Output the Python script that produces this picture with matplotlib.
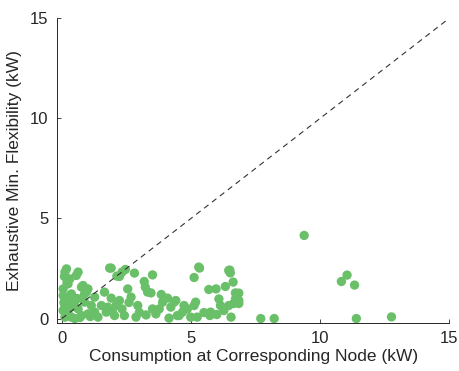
import matplotlib
matplotlib.use("Agg")
import matplotlib.pyplot as plt

# node consumption (kW) vs exhaustive min. flexibility (kW)
consumption = [
    # cluster near x = 0..2
    0.18, 0.12, 0.63, 0.56, 0.31, 0.24, 0.05, 0.76, 1.01, 0.95,
    1.85, 1.65, 1.27, 1.53, 1.78, 1.72, 0.18, 0.12, 0.24, 0.50,
    0.63, 0.76, 1.01, 1.27, 1.40, 0.37, 0.12, 0.05, 0.88, 1.14,
    0.37, 0.82, 0.88, 0.50, 0.05, 0.30, 0.10, 0.45, 0.70, 1.10,
    0.20, 0.08, 0.35, 0.15, 0.60,
    # x = 2..4.5
    1.91, 2.13, 2.46, 2.33, 3.51, 3.19, 3.23, 3.45, 2.55, 2.68,
    1.91, 2.23, 2.10, 2.33, 2.04, 2.42, 2.87, 3.26, 3.64, 3.77,
    3.90, 4.09, 4.22, 4.15, 4.47, 4.35, 2.94, 3.51, 2.81, 2.23,
    3.32, 3.00, 2.60, 3.85, 1.95,
    # x = 4.4..6.9
    5.33, 5.12, 6.50, 6.52, 6.63, 6.33, 5.69, 5.97, 6.72, 6.08,
    6.72, 6.65, 6.14, 6.46, 6.27, 5.76, 5.73, 6.55, 4.41, 4.73,
    4.86, 5.12, 5.18, 4.54, 4.99, 5.24, 4.67, 6.85, 6.85, 6.85,
    5.30, 6.46, 5.50, 6.00,
    # outliers on the right
    9.38, 10.82, 11.04, 11.33, 7.70, 8.22, 11.40, 12.76,
]
flexibility = [
    2.48, 2.32, 2.32, 2.15, 1.98, 1.73, 1.48, 1.57, 1.48, 1.32,
    2.52, 1.32, 1.07, 0.65, 0.57, 0.32, 0.98, 0.65, 0.32, 0.82,
    0.48, 0.15, 0.23, 0.32, 0.07, 0.07, 0.07, 1.15, 0.82, 0.65,
    1.23, 1.65, 1.23, 0.00, 0.40, 0.90, 2.10, 0.60, 0.05, 0.10,
    1.80, 0.80, 1.10, 0.45, 1.00,
    2.52, 2.12, 2.45, 2.32, 2.18, 1.85, 1.57, 1.28, 1.48, 1.07,
    1.02, 0.90, 0.65, 0.48, 0.15, 0.15, 0.07, 0.18, 0.23, 0.48,
    0.82, 1.02, 0.57, 0.02, 0.15, 0.82, 0.65, 0.48, 2.27, 2.10,
    1.32, 0.30, 0.80, 1.20, 0.35,
    2.52, 2.05, 2.42, 2.28, 1.82, 1.60, 1.45, 1.48, 1.28, 0.98,
    0.98, 0.75, 0.65, 0.65, 0.40, 0.32, 0.15, 0.07, 0.90, 0.65,
    0.48, 0.65, 0.82, 0.15, 0.07, 0.07, 0.32, 1.27, 0.90, 0.75,
    2.57, 2.40, 0.30, 0.20,
    4.15, 1.85, 2.17, 1.67, 0.00, 0.00, 0.00, 0.08,
]
ticks = [0, 5, 10, 15]

plt.rcParams["font.family"] = ["Liberation Sans", "DejaVu Sans"]
axis_color = "#262626"

fig = plt.figure(figsize=(4.59, 3.71), dpi=100)
ax = fig.add_axes([0.124, 0.129, 0.855, 0.822])

ax.plot([0, 15], [0, 15], linestyle=(0, (5, 4)), color="#333333", linewidth=0.8, zorder=3)
ax.scatter(consumption, flexibility, s=45, color="#6abf69", edgecolors="none", zorder=2)

ax.set_xlim(-0.19, 15)
ax.set_ylim(-0.23, 15)
ax.set_xticks(ticks)
ax.set_yticks(ticks)
ax.tick_params(direction="in", length=3, width=0.6, colors=axis_color, labelsize=12, pad=6)
for side in ("top", "right"):
    ax.spines[side].set_visible(False)
for side in ("left", "bottom"):
    ax.spines[side].set_color(axis_color)
    ax.spines[side].set_linewidth(0.7)

ax.set_xlabel("Consumption at Corresponding Node (kW)", fontsize=12.5, color=axis_color, labelpad=2)
ax.set_ylabel("Exhaustive Min. Flexibility (kW)", fontsize=12.5, color=axis_color, labelpad=6)

fig.savefig("out.png", dpi=100)
